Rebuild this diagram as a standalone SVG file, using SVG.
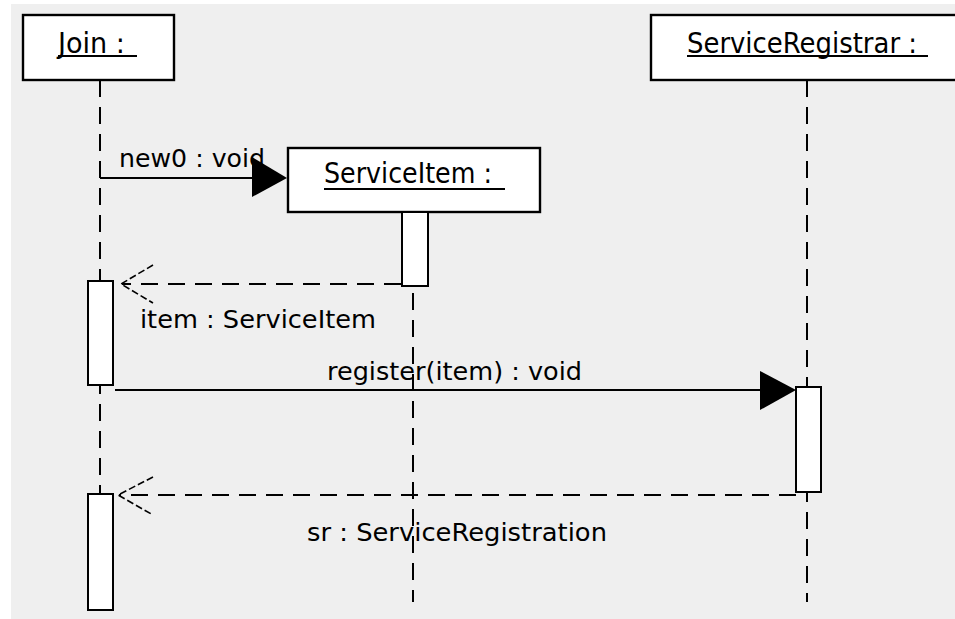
<svg xmlns="http://www.w3.org/2000/svg" width="955" height="619" viewBox="0 0 955 619">
  <style>
    .bg { fill: #efefef; }
    .obj { fill: #ffffff; stroke: #000000; stroke-width: 2.4; }
    .act { fill: #ffffff; stroke: #000000; stroke-width: 2; }
    .life { stroke: #000000; stroke-width: 2; stroke-dasharray: 17 10; fill: none; }
    .msg { stroke: #000000; stroke-width: 2; fill: none; }
    .ret { stroke: #000000; stroke-width: 2; stroke-dasharray: 17 10; fill: none; }
    .open { stroke: #000000; stroke-width: 1.6; stroke-dasharray: 7 3; fill: none; }
    .head { fill: #000000; stroke: none; }
    .under { stroke: #000000; stroke-width: 2; }
    text { font-family: "DejaVu Sans", "Liberation Sans", sans-serif; fill: #000000; }
    .title { font-size: 28px; }
    .label { font-size: 25px; }
  </style>

  <!-- canvas -->
  <rect class="bg" x="11" y="4" width="944" height="615"/>

  <!-- lifelines -->
  <g id="lifelines">
    <line class="life" x1="100" y1="80" x2="100" y2="610"/>
    <line class="life" x1="413" y1="212" x2="413" y2="602"/>
    <line class="life" x1="807" y1="80" x2="807" y2="602"/>
  </g>

  <!-- message connectors -->
  <g id="connectors">
    <!-- new0 : void -->
    <line class="msg" x1="100" y1="178" x2="253" y2="178"/>
    <polygon class="head" points="252,157 287,178 252,197"/>
    <!-- item : ServiceItem (return) -->
    <line class="ret" x1="401" y1="284" x2="122" y2="284"/>
    <polyline class="open" points="153,265 121,284 153,303"/>
    <!-- register(item) : void -->
    <line class="msg" x1="115" y1="390" x2="761" y2="390"/>
    <polygon class="head" points="760,371 796,390 760,410"/>
    <!-- sr : ServiceRegistration (return) -->
    <line class="ret" x1="796" y1="495" x2="119" y2="495"/>
    <polyline class="open" points="153,477 118,495 153,515"/>
  </g>

  <!-- Join object -->
  <g id="join">
    <rect class="obj" x="23" y="15" width="151" height="65"/>
    <text class="title" x="58" y="53" textLength="67" lengthAdjust="spacingAndGlyphs">Join :</text>
    <line class="under" x1="58" y1="56" x2="137" y2="56"/>
    <rect class="act" x="88" y="281" width="25" height="104"/>
    <rect class="act" x="88" y="494" width="25" height="116"/>
  </g>

  <!-- ServiceItem object -->
  <g id="serviceitem">
    <rect class="obj" x="288" y="148" width="252" height="64"/>
    <text class="title" x="324" y="183" textLength="168" lengthAdjust="spacingAndGlyphs">ServiceItem :</text>
    <line class="under" x1="324" y1="189" x2="505" y2="189"/>
    <rect class="act" x="402" y="212" width="26" height="74"/>
  </g>

  <!-- ServiceRegistrar object -->
  <g id="serviceregistrar">
    <rect class="obj" x="651" y="15" width="320" height="65"/>
    <text class="title" x="687" y="53" textLength="230" lengthAdjust="spacingAndGlyphs">ServiceRegistrar :</text>
    <line class="under" x1="687" y1="56" x2="928" y2="56"/>
    <rect class="act" x="796" y="387" width="25" height="105"/>
  </g>

  <!-- message labels -->
  <g id="labels">
    <text class="label" x="119" y="167" textLength="146" lengthAdjust="spacingAndGlyphs">new0 : void</text>
    <text class="label" x="140" y="328" textLength="236" lengthAdjust="spacingAndGlyphs">item : ServiceItem</text>
    <text class="label" x="327" y="380" textLength="255" lengthAdjust="spacingAndGlyphs">register(item) : void</text>
    <text class="label" x="307" y="541" textLength="300" lengthAdjust="spacingAndGlyphs">sr : ServiceRegistration</text>
  </g>
</svg>
